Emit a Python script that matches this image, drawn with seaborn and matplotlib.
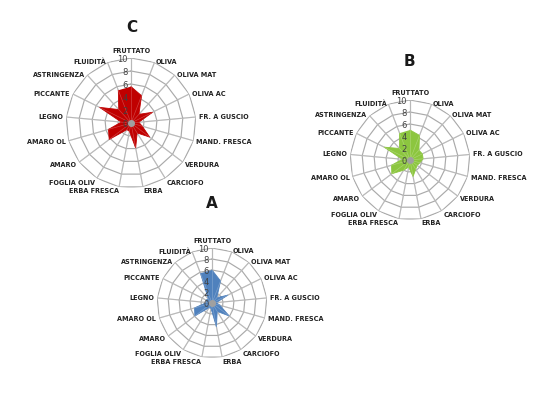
import numpy as np
import pandas as pd
import matplotlib
matplotlib.use("Agg")
import matplotlib.pyplot as plt
import matplotlib.transforms as mtransforms
import seaborn as sns

categories = ["Fruttato", "Oliva", "Oliva Mat", "Oliva Ac", "Fr. a guscio",
              "Mand. Fresca", "Verdura", "Carciofo", "Erba", "Erba fresca",
              "Foglia oliv", "Amaro", "Amaro Ol", "Legno", "Piccante",
              "Astringenza", "Fluidità"]

values_C = [5.6, 4.5, 1.8, 3.7, 1.2, 1.8, 3.6, 1.8, 3.9, 1.3, 1.2, 4.2, 3.6, 1.5, 5.4, 2.8, 5.4]
values_B = [5.0, 4.4, 2.2, 2.3, 2.2, 1.7, 1.5, 1.8, 2.8, 1.2, 2.0, 3.8, 3.2, 1.3, 4.8, 2.6, 4.8]
values_A = [6.0, 4.3, 1.3, 3.2, 0.8, 1.5, 3.9, 1.8, 4.4, 1.0, 1.0, 3.9, 3.3, 1.0, 1.2, 1.0, 5.8]

ring_ticks = [0, 2, 4, 6, 8, 10]
panel_titles = ["C", "B", "A"]
panel_colors = ["#c00000", "#8cc63f", "#4f81bd"]

sns.set_theme(style="white")
plt.rcParams['font.family'] = ['Liberation Sans Narrow', 'DejaVu Sans']

W, H = 537, 397
fig = plt.figure(figsize=(W / 100, H / 100), dpi=100)
fig.patch.set_facecolor("white")

GRID = "#aaaaaa"


def radar(center, radius, values, color, title, title_xy):
    cx, cy = center
    rect = [(cx - radius) / W, 1 - (cy + radius) / H, 2 * radius / W, 2 * radius / H]
    ax = fig.add_axes(rect, projection="polar")
    n = len(categories)
    theta = np.linspace(0, 2 * np.pi, n, endpoint=False)
    ax.set_theta_offset(np.pi / 2)
    ax.set_theta_direction(-1)
    ax.grid(False)
    ax.spines["polar"].set_visible(False)
    ax.patch.set_alpha(0)

    tc = np.append(theta, theta[0])
    vc = np.append(values, values[0])
    df = pd.DataFrame({"theta": tc, "value": vc})

    # polygonal grid rings and spokes
    for r in ring_ticks[1:]:
        ax.plot(tc, [r] * len(tc), color=GRID, lw=0.85, zorder=1)
    for t in theta:
        ax.plot([t, t], [0, 10], color=GRID, lw=0.85, zorder=1)

    ax.fill(tc, vc, color=color, lw=0, zorder=2)
    sns.lineplot(data=df, x="theta", y="value", sort=False, color=color,
                 lw=0.6, ax=ax, zorder=3)
    for t in theta:
        ax.plot([t, t], [0, 10], color="white", lw=0.5, alpha=0.25, zorder=4)
    ax.plot(0, 0, marker="o", ms=4, color="#a0a0a0", zorder=5)

    ax.set_xlabel("")
    ax.set_ylabel("")
    ax.set_xticks([])
    ax.set_yticks([])
    ax.set_ylim(0, 10)

    for t, lab in zip(theta, categories):
        s, c = np.sin(t), np.cos(t)
        if abs(s) < 0.1:
            ha = "center"
        else:
            ha = "left" if s > 0 else "right"
        if c > 0.95:
            va = "bottom"
            dy = 4
        elif c < -0.9:
            va = "top"
            dy = -1.5
        else:
            va = "center"
            dy = 5 * c if c < 0 else 0.3 * c
        dx = 3 * s
        off = mtransforms.ScaledTranslation(dx / 100, dy / 100, fig.dpi_scale_trans)
        ax.text(t, 10, lab.upper(), transform=ax.transData + off, ha=ha, va=va,
                fontsize=4.7, fontweight="bold", color="#222222", clip_on=False)

    for r in ring_ticks:
        off = mtransforms.ScaledTranslation(-3 / 100, -1.5 / 100, fig.dpi_scale_trans)
        ax.text(0, r, str(r), transform=ax.transData + off, ha="right", va="center",
                fontsize=6, color="#404040", zorder=6, family="DejaVu Sans")

    fig.text(title_xy[0] / W, 1 - title_xy[1] / H, title, ha="center", va="center",
             fontsize=11, fontweight="bold", color="#1a1a1a", family="DejaVu Sans")
    return ax


radar((131, 123), 65, values_C, panel_colors[0], panel_titles[0], (132, 28))
radar((410, 160), 60, values_B, panel_colors[1], panel_titles[1], (409, 62))
radar((212, 303), 55, values_A, panel_colors[2], panel_titles[2], (212, 204))

fig.savefig("out.png", dpi=100)
